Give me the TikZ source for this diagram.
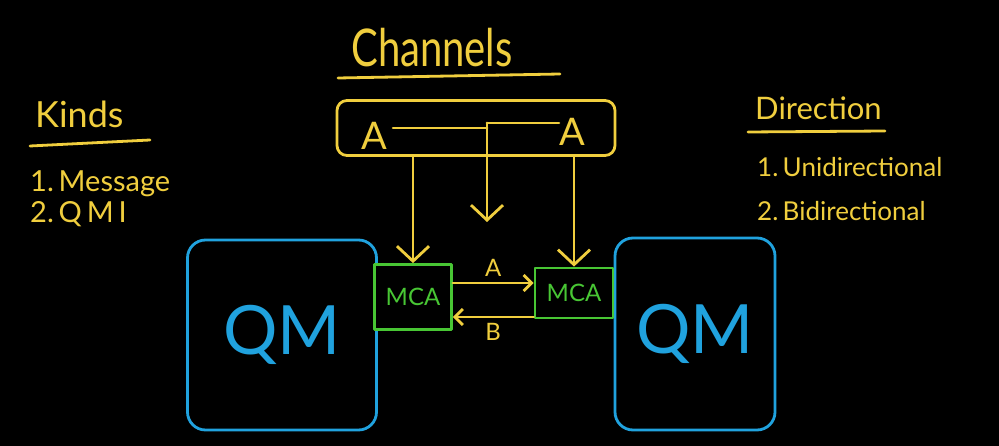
\documentclass[tikz,border=0pt]{standalone}
\usepackage{fontspec}
\setmainfont{Lato}
\usetikzlibrary{positioning}
\usetikzlibrary{arrows.meta}
\definecolor{chalkyellow}{RGB}{240,206,62}
\definecolor{chalkblue}{RGB}{32,162,222}
\definecolor{chalkgreen}{RGB}{72,198,52}

\tikzset{
  pen/.style={line width=2.8pt, line cap=round, line join=round},
  qmbox/.style={pen, draw=chalkblue, rounded corners=18pt, text=chalkblue, font=\fontsize{68}{68}\selectfont},
  mcabox/.style={pen, draw=chalkgreen, text=chalkgreen, font=\fontsize{24}{24}\selectfont},
  chanbox/.style={pen, draw=chalkyellow, rounded corners=10pt},
  yellowtext/.style={text=chalkyellow, inner sep=0pt},
  smalltip/.style={-{Straight Barb[length=8pt,width=16pt]}}
}

\begin{document}
\begin{tikzpicture}[x=1pt, y=-1pt, >={Straight Barb[length=15pt,width=32pt]}]
  \fill[black] (0,0) rectangle (999,446);
  \useasboundingbox (0,0) rectangle (999,446);

  % titles and lists
  \node[yellowtext, font=\fontsize{40}{40}\selectfont] (title) at (432,48) {\scalebox{1}[1.3]{Channels}};
  \draw[pen, chalkyellow] (338,78) -- (560,74);

  \node[yellowtext, anchor=west, font=\fontsize{36}{36}\selectfont] (kinds) at (35,114) {Kinds};
  \draw[pen, chalkyellow] (30,146) -- (150,140);
  \node[yellowtext, anchor=west, font=\fontsize{29}{29}\selectfont] (kind1) at (30,184) {1.\,Message};
  \node[yellowtext, anchor=west, font=\fontsize{29}{29}\selectfont] (kind2) at (30,214) {2.\,Q\,M\,I};

  \node[yellowtext, anchor=west, font=\fontsize{31}{31}\selectfont] (dir) at (755,108) {Direction};
  \draw[pen, chalkyellow] (748,132) -- (885,131);
  \node[yellowtext, anchor=west, font=\fontsize{26}{26}\selectfont] (dir1) at (757,167) {1.\,Unidirectional};
  \node[yellowtext, anchor=west, font=\fontsize{26}{26}\selectfont] (dir2) at (757,211) {2.\,Bidirectional};

  % channel box
  \node[chanbox, minimum width=278pt, minimum height=55pt] (chan) at (476,128) {};
  \node[yellowtext, font=\fontsize{38}{38}\selectfont] (chA) at (374,136) {A};
  \node[yellowtext, font=\fontsize{38}{38}\selectfont] (chB) at (572,132) {A};
  \coordinate (split) at (487,123);
  \coordinate (drop) at (487,222);

  % queue managers and channel agents
  \node[qmbox, minimum width=189pt, minimum height=190pt] (qmL) at (282,335) {QM};
  \node[qmbox, minimum width=160pt, minimum height=192pt] (qmR) at (695,334) {QM};
  \node[mcabox, fill=black, minimum width=77pt, minimum height=65pt] (mcaL) at (413,297) {MCA};
  \node[mcabox, fill=black, minimum width=78pt, minimum height=50pt] (mcaR) at (574,293) {MCA};

  \draw[pen, chalkyellow] (chA.east) ++(6,-8) -- (split |- 0,128);
  \draw[pen, chalkyellow] (split) -- (split -| chB.west);
  \draw[pen, chalkyellow, ->] (split) -- (drop);
  \draw[pen, chalkyellow, ->] (chan.south -| mcaL.north) -- (mcaL.north);
  \draw[pen, chalkyellow, ->] (chan.south -| mcaR.north) -- (mcaR.north);
  \draw[pen, chalkyellow, smalltip] ([yshift=14pt]mcaL.east) -- ([yshift=14pt]mcaL.east -| mcaR.west)
    node[midway, above=5pt, yellowtext, font=\fontsize{24}{24}\selectfont] {A};
  \draw[pen, chalkyellow, smalltip] ([yshift=-20pt]mcaL.east -| mcaR.west) -- ([yshift=-20pt]mcaL.east)
    node[midway, below=5pt, yellowtext, font=\fontsize{24}{24}\selectfont] {B};
\end{tikzpicture}
\end{document}
